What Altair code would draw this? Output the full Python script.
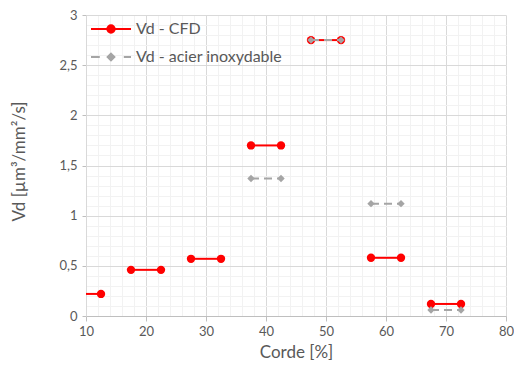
import altair as alt
import pandas as pd

# ---- data ----
series_names = ["Vd - CFD", "Vd - acier inoxydable"]
cfd_x_left = [7.5, 17.5, 27.5, 37.5, 47.5, 57.5, 67.5]
cfd_x_right = [12.5, 22.5, 32.5, 42.5, 52.5, 62.5, 72.5]
cfd_vd = [0.22, 0.46, 0.57, 1.70, 2.75, 0.58, 0.12]
inox_x_left = [37.5, 47.5, 57.5, 67.5]
inox_x_right = [42.5, 52.5, 62.5, 72.5]
inox_vd = [1.37, 2.75, 1.12, 0.06]

x_ticks = [10, 20, 30, 40, 50, 60, 70, 80]
y_ticks = [0, 0.5, 1, 1.5, 2, 2.5, 3]
x_minor = list(range(10, 81, 2))
y_minor = [round(i * 0.1, 1) for i in range(31)]

FONT = "Lato"
RED = "#FF0000"
GRAY = "#A5A5A5"
TXT = "#595959"


def segments(lefts, rights, vals, name):
    rows = []
    for i, (l, r, v) in enumerate(zip(lefts, rights, vals)):
        rows.append({"seg": i, "x": l, "vd": v, "series": name})
        rows.append({"seg": i, "x": r, "vd": v, "series": name})
    return rows


cfd = pd.DataFrame(segments(cfd_x_left, cfd_x_right, cfd_vd, series_names[0]))
inox = pd.DataFrame(segments(inox_x_left, inox_x_right, inox_vd, series_names[1]))
both = pd.concat([cfd, inox], ignore_index=True)

xs = alt.Scale(domain=[10, 80], nice=False, zero=False)
ys = alt.Scale(domain=[0, 3], nice=False, zero=True)

# legend symbols: line + marker
path_red = ("M-2.5,0 L2.5,0 M-0.46,0 A0.46,0.46 0 1,0 0.46,0 "
            "A0.46,0.46 0 1,0 -0.46,0 Z")
path_gray = ("M-2.5,0 L-1.4,0 M1.6,0 L2.5,0 "
             "M0,-0.42 L0.42,0 L0,0.42 L-0.42,0 Z")

minor_x_axis = alt.Axis(values=x_minor, orient="top", labels=False, ticks=False,
                        domain=False, grid=True, gridColor="#F2F2F2", title=None)
minor_y_axis = alt.Axis(values=y_minor, orient="right", labels=False, ticks=False,
                        domain=False, grid=True, gridColor="#F2F2F2", title=None)

# minor grid + legend layer (invisible points)
legend_layer = alt.Chart(both).mark_point(filled=True, opacity=0, clip=True).encode(
    x=alt.X("x:Q", scale=xs, axis=minor_x_axis),
    y=alt.Y("vd:Q", scale=ys, axis=minor_y_axis),
    fill=alt.Fill("series:N", scale=alt.Scale(domain=series_names, range=[RED, GRAY]),
                  legend=alt.Legend(title=None)),
    stroke=alt.Stroke("series:N", scale=alt.Scale(domain=series_names, range=[RED, GRAY]),
                      legend=alt.Legend(title=None)),
    shape=alt.Shape("series:N", scale=alt.Scale(domain=series_names, range=[path_red, path_gray]),
                    legend=alt.Legend(title=None)),
)

main_x_axis = alt.Axis(values=x_ticks, orient="bottom", grid=True, gridColor="#D9D9D9",
                       domainColor="#BFBFBF", tickColor="#BFBFBF", tickSize=5,
                       labelColor=TXT, labelFont=FONT, labelFontSize=13, labelPadding=4,
                       labelFlush=False,
                       title="Corde [%]", titleFont=FONT, titleFontSize=17,
                       titleFontWeight="normal", titleColor=TXT, titleY=36,
                       titleBaseline="middle")
main_y_axis = alt.Axis(values=y_ticks, orient="left", grid=True, gridColor="#D9D9D9",
                       domainColor="#D9D9D9", tickColor="#BFBFBF", tickSize=4,
                       labelColor=TXT, labelFont=FONT, labelFontSize=13, labelPadding=5,
                       labelFlush=False,
                       labelExpr="replace(format(datum.value, '~g'), '.', ',')",
                       title="Vd [µm³/mm²/s]", titleFont=FONT, titleFontSize=17,
                       titleFontWeight="normal", titleColor=TXT, titleX=-67, titleY=146,
                       titleAlign="center", titleBaseline="middle", titleAngle=-90)

cfd_line = alt.Chart(cfd).mark_line(color=RED, strokeWidth=2, clip=True).encode(
    x=alt.X("x:Q", scale=xs, axis=main_x_axis),
    y=alt.Y("vd:Q", scale=ys, axis=main_y_axis),
    detail="seg:N",
)
cfd_pts = alt.Chart(cfd).mark_point(filled=True, shape="circle", size=70, opacity=1,
                                    color=RED, clip=True).encode(
    x=alt.X("x:Q", scale=xs, axis=None),
    y=alt.Y("vd:Q", scale=ys, axis=None),
)
inox_line = alt.Chart(inox).mark_line(color=GRAY, strokeWidth=2, strokeDash=[8, 5],
                                      clip=True).encode(
    x=alt.X("x:Q", scale=xs, axis=None),
    y=alt.Y("vd:Q", scale=ys, axis=None),
    detail="seg:N",
)
inox_pts = alt.Chart(inox).mark_point(filled=True, shape="diamond", size=55, opacity=1,
                                      color=GRAY, clip=True).encode(
    x=alt.X("x:Q", scale=xs, axis=None),
    y=alt.Y("vd:Q", scale=ys, axis=None),
)

chart = alt.layer(legend_layer, cfd_line, cfd_pts, inox_line, inox_pts).resolve_axis(
    x="independent", y="independent"
).properties(
    width=420, height=301,
    autosize=alt.AutoSizeParams(type="none"),
    padding={"left": 78, "top": 7, "right": 8, "bottom": 47},
).configure_view(stroke=None).configure_legend(
    orient="none", legendX=16, legendY=5, symbolSize=256, symbolStrokeWidth=2,
    symbolOpacity=1, labelOffset=16, rowPadding=11, padding=0,
    labelFont=FONT, labelFontSize=16, labelColor=TXT, symbolType="circle",
)

chart.save("out.html", embed_options={"renderer": "svg", "actions": False})
